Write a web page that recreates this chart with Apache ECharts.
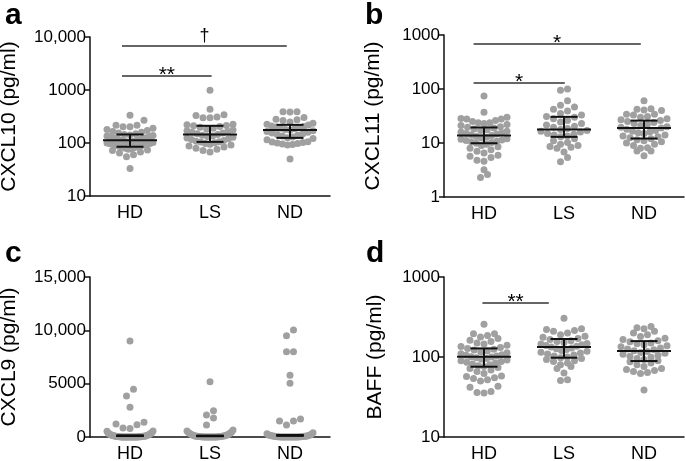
<!DOCTYPE html>
<html><head><meta charset="utf-8">
<script src="https://cdn.jsdelivr.net/npm/echarts@6/dist/echarts.min.js"></script>
<style>html,body{margin:0;padding:0;background:#fff}#c{width:685px;height:461px}</style>
</head><body><div id="c"></div>
<script>
// ---------------- data ----------------
const groups = ['HD', 'LS', 'ND'];

// panel a: CXCL10 (pg/ml)
const aHD = [33, 55, 60, 65, 68, 72, 74, 76, 78, 80, 82, 84, 85, 86, 88, 90, 92, 94, 95, 97, 98, 100, 102, 104, 105, 107, 109, 111, 113, 115, 117, 119, 121, 123, 125, 127, 130, 133, 136, 139, 142, 145, 150, 155, 160, 165, 172, 180, 190, 203, 203, 217, 217, 270, 335];
const aLS = [68, 72, 76, 80, 84, 88, 92, 95, 98, 101, 104, 106, 108, 112, 116, 120, 124, 128, 132, 136, 140, 145, 150, 155, 160, 165, 170, 176, 182, 190, 198, 205, 211, 215, 220, 225, 300, 300, 310, 330, 340, 435, 990];
const aND = [50, 92, 94, 96, 98, 100, 102, 104, 106, 115, 122, 126, 130, 135, 140, 145, 150, 155, 160, 165, 170, 175, 180, 185, 190, 195, 200, 205, 210, 218, 225, 235, 250, 265, 275, 280, 303, 385, 387, 390];
const aMed = [113, 145, 175], aQ1 = [85, 105, 125], aQ3 = [145, 211, 220];
const aTickVals = [10, 100, 1000, 10000], aTickLabels = ['10', '100', '1000', '10,000'];
const aSigFrom = [0.4, 0.4], aSigTo = [1.52, 2.46], aSigY = [1837, 6760], aSigText = ['**', '\u2020'];

// panel b: CXCL11 (pg/ml)
const bHD = [2.3, 2.6, 3.2, 4.6, 4.8, 5.4, 5.7, 5.9, 6.5, 7.0, 7.5, 8.0, 8.5, 9.0, 9.5, 9.9, 10.2, 10.5, 10.8, 11.1, 11.4, 11.7, 12.0, 12.4, 12.8, 13.2, 13.8, 14.2, 14.6, 15.0, 15.5, 16.0, 16.5, 17.0, 17.6, 18.2, 19.0, 19.5, 20.0, 21.0, 22.0, 23.0, 23.6, 23.6, 25.0, 26.0, 27.7, 27.7, 28.5, 30, 37.3, 74];
const bLS = [4.5, 5.4, 6.8, 8.0, 8.3, 8.6, 9.0, 9.5, 10.2, 11.0, 12.0, 13.0, 13.5, 14.0, 14.5, 15.0, 16.0, 16.5, 17.0, 17.8, 18.5, 19.5, 20.5, 21.5, 23.0, 24.5, 26.0, 28.0, 30.0, 31.0, 33.0, 35.0, 39.0, 42.0, 46.6, 50.0, 60.5, 95, 100];
const bND = [5.8, 7.1, 7.1, 8.0, 8.2, 9.0, 9.5, 10.0, 10.5, 11.0, 11.5, 12.0, 12.5, 13.0, 13.5, 14.0, 15.0, 15.5, 16.0, 16.5, 17.0, 18.0, 19.0, 19.5, 20.0, 21.0, 22.0, 23.0, 24.0, 25.0, 26.0, 27.0, 28.0, 30.0, 31.0, 33.0, 34.0, 34.0, 40.0, 41.0, 42.0, 43.0, 60.5];
const bMed = [13.8, 17.8, 19], bQ1 = [9.9, 13, 12.1], bQ3 = [19.4, 30.5, 26];
const bTickVals = [1, 10, 100, 1000], bTickLabels = ['1', '10', '100', '1000'];
const bSigFrom = [0.37, 0.37], bSigTo = [1.51, 2.46], bSigY = [129, 681], bSigText = ['*', '*'];

// panel c: CXCL9 (pg/ml)
const cHD = [9000, 4470, 3840, 2780, 1375, 1220, 1160, 850, 790, 560, 530, 420, 380, 340, 300, 260, 230, 200, 180, 160, 140, 120, 110, 100, 90, 80, 70, 60, 50, 45, 40, 35, 30, 25, 20, 15, 10, 10, 5, 5, 0, 0, 0, 0, 0, 0, 0, 0, 0, 0, 0, 0];
const cLS = [5190, 2470, 2060, 1780, 1125, 650, 560, 480, 420, 380, 330, 290, 250, 220, 190, 160, 140, 120, 100, 90, 80, 70, 60, 50, 40, 30, 25, 20, 15, 10, 5, 0, 0, 0, 0, 0, 0, 0, 0, 0];
const cND = [10030, 9500, 8000, 8000, 5800, 5030, 1690, 1500, 1500, 1125, 400, 300, 260, 220, 180, 150, 130, 110, 100, 90, 80, 70, 60, 50, 40, 30, 25, 20, 15, 10, 5, 0, 0, 0, 0, 0, 0, 0, 0, 0, 0, 0];
const cMed = [120, 100, 150], cQ1 = [90, 70, 110], cQ3 = [150, 130, 190];
const cTickVals = [0, 5000, 10000, 15000], cTickLabels = ['0', '5000', '10,000', '15,000'];
const cSigFrom = [], cSigTo = [], cSigY = [], cSigText = [];

// panel d: BAFF (pg/ml)
const dHD = [35.5, 36, 37, 42, 43, 50, 52, 54, 55, 57, 58, 62, 66, 69, 72, 74, 76, 78, 80, 82, 84, 86, 88, 90, 92, 94, 96, 98, 100, 101, 103, 105, 107, 110, 113, 116, 119, 122, 125, 128, 131, 135, 140, 145, 150, 156, 162, 170, 178, 186, 195, 195, 256];
const dLS = [51, 52, 63, 72, 76, 80, 84, 88, 90, 93, 96, 98, 100, 103, 106, 109, 112, 115, 118, 121, 124, 127, 130, 133, 136, 139, 142, 145, 148, 152, 156, 160, 165, 170, 176, 182, 190, 200, 210, 215, 220, 225, 305];
const dND = [38.7, 62, 64, 66, 68, 70, 72, 76, 80, 84, 87, 90, 93, 96, 99, 102, 105, 108, 111, 114, 117, 120, 123, 126, 130, 134, 138, 142, 146, 150, 155, 160, 166, 172, 180, 190, 200, 210, 225, 232, 240];
const dMed = [101, 133, 119], dQ1 = [75.6, 98, 89], dQ3 = [128, 168, 158];
const dTickVals = [10, 100, 1000], dTickLabels = ['10', '100', '1000'];
const dSigFrom = [0.48], dSigTo = [1.31], dSigY = [473], dSigText = ['**'];

// ---------------- layout / style ----------------
const FONT = '"Liberation Sans", Arial, Helvetica, sans-serif';
const DOT = 7, MAXHALF = 23, DOT_COLOR = '#a0a0a0', INK = '#111';

const panels = [
  { letter: 'a', letterPos: [5, 1], grid: { left: 90, top: 37, width: 240, height: 159 }, log: true,
    title: 'CXCL10 (pg/ml)', nameGap: 70, series: [aHD, aLS, aND], med: aMed, q1: aQ1, q3: aQ3,
    ticks: aTickVals, labels: aTickLabels, sig: [aSigFrom, aSigTo, aSigY, aSigText], medHalf: 27 },
  { letter: 'b', letterPos: [365, 1], grid: { left: 444, top: 35, width: 240, height: 162 }, log: true,
    title: 'CXCL11 (pg/ml)', nameGap: 60, series: [bHD, bLS, bND], med: bMed, q1: bQ1, q3: bQ3,
    ticks: bTickVals, labels: bTickLabels, sig: [bSigFrom, bSigTo, bSigY, bSigText], medHalf: 27 },
  { letter: 'c', letterPos: [5, 239], grid: { left: 90, top: 277, width: 240, height: 160 }, log: false,
    title: 'CXCL9 (pg/ml)', nameGap: 70, series: [cHD, cLS, cND], med: cMed, q1: cQ1, q3: cQ3,
    ticks: cTickVals, labels: cTickLabels, sig: [cSigFrom, cSigTo, cSigY, cSigText], medHalf: 14 },
  { letter: 'd', letterPos: [366, 239], grid: { left: 444, top: 277, width: 240, height: 160 }, log: true,
    title: 'BAFF (pg/ml)', nameGap: 58, series: [dHD, dLS, dND], med: dMed, q1: dQ1, q3: dQ3,
    ticks: dTickVals, labels: dTickLabels, sig: [dSigFrom, dSigTo, dSigY, dSigText], medHalf: 27 }
];

function frac(p, v) {
  const lo = p.ticks[0], hi = p.ticks[p.ticks.length - 1];
  if (p.log) return (Math.log10(v) - Math.log10(lo)) / (Math.log10(hi) - Math.log10(lo));
  return (v - lo) / (hi - lo);
}

// Prism-like row swarm: rows one dot high, larger values pushed outwards
function swarm(p, vals, gi) {
  const H = p.grid.height, pxX = p.grid.width / 3;
  const pts = vals.map(v => ({ v, px: frac(p, v) * H })).sort((a, b) => a.v - b.v);
  const out = [];
  let i = 0;
  while (i < pts.length) {
    const start = pts[i].px, row = [];
    while (i < pts.length && pts[i].px - start < DOT) { row.push(pts[i]); i++; }
    const n = row.length;
    const sp = n > 1 ? Math.min(DOT, 2 * MAXHALF / (n - 1)) : 0;
    const offs = [];
    for (let k = 0; k < n; k++) offs.push((k - (n - 1) / 2) * sp);
    offs.sort((a, b) => Math.abs(a) - Math.abs(b) || a - b);
    row.forEach((pt, k) => out.push([gi + 0.5 + offs[k] / pxX, pt.v]));
  }
  return out;
}

const option = {
  animation: false,
  backgroundColor: '#fff',
  grid: [], xAxis: [], yAxis: [], series: [], graphic: []
};

panels.forEach((p, pi) => {
  option.grid.push(Object.assign({ outerBoundsMode: 'none', containLabel: false }, p.grid));
  option.xAxis.push({
    type: 'category', gridIndex: pi, data: groups, boundaryGap: true,
    axisLine: { onZero: false, lineStyle: { color: INK, width: 1.5 } },
    axisTick: { alignWithLabel: true, length: 4, lineStyle: { color: INK, width: 1.5 } },
    axisLabel: { fontSize: 18, color: '#000', margin: 8, fontFamily: FONT },
    splitLine: { show: false }
  });
  option.xAxis.push({ type: 'value', gridIndex: pi, min: 0, max: 3, show: false });
  const lo = p.ticks[0], hi = p.ticks[p.ticks.length - 1];
  const y = {
    gridIndex: pi, min: lo, max: hi,
    axisLine: { show: true, onZero: false, lineStyle: { color: INK, width: 1.5 } },
    axisTick: { show: true, length: 5, lineStyle: { color: INK, width: 1.5 } },
    axisLabel: {
      fontSize: 17, color: '#000', margin: 4, fontFamily: FONT,
      formatter: v => {
        const k = p.ticks.findIndex(t => Math.abs(t - v) <= 1e-6 * Math.max(1, t));
        return k >= 0 ? p.labels[k] : '';
      }
    },
    splitLine: { show: false }, minorTick: { show: false },
    name: p.title, nameLocation: 'middle', nameRotate: 90, nameGap: p.nameGap,
    nameTextStyle: { fontSize: 21, color: '#000', fontFamily: FONT }
  };
  if (p.log) { y.type = 'log'; y.logBase = 10; }
  else { y.type = 'value'; y.interval = p.ticks[1] - p.ticks[0]; }
  option.yAxis.push(y);

  p.series.forEach((vals, gi) => {
    option.series.push({
      type: 'scatter', xAxisIndex: 2 * pi + 1, yAxisIndex: pi, silent: true, clip: false,
      symbol: 'circle', symbolSize: DOT, itemStyle: { color: DOT_COLOR, opacity: 1 },
      data: swarm(p, vals, gi), z: 2
    });
  });

  // median + IQR
  option.series.push({
    type: 'custom', xAxisIndex: 2 * pi + 1, yAxisIndex: pi, silent: true, z: 5, clip: false,
    encode: { x: 0, y: [1, 2, 3] },
    data: groups.map((g, i) => [i + 0.5, p.med[i], p.q1[i], p.q3[i]]),
    renderItem: (params, api) => {
      const x = api.value(0);
      const pm = api.coord([x, api.value(1)]);
      const p1 = api.coord([x, api.value(2)]);
      const p3 = api.coord([x, api.value(3)]);
      const st = { stroke: INK, lineWidth: 2, fill: null };
      const mh = p.medHalf, ch = 13.5;
      return { type: 'group', children: [
        { type: 'line', shape: { x1: pm[0] - mh, y1: pm[1], x2: pm[0] + mh, y2: pm[1] }, style: st },
        { type: 'line', shape: { x1: p1[0] - ch, y1: p1[1], x2: p1[0] + ch, y2: p1[1] }, style: st },
        { type: 'line', shape: { x1: p3[0] - ch, y1: p3[1], x2: p3[0] + ch, y2: p3[1] }, style: st },
        { type: 'line', shape: { x1: pm[0], y1: p1[1], x2: pm[0], y2: p3[1] }, style: st }
      ] };
    }
  });

  // significance bars
  const [sf, stt, sy, stx] = p.sig;
  if (sf.length) {
    option.series.push({
      type: 'custom', xAxisIndex: 2 * pi + 1, yAxisIndex: pi, silent: true, z: 5, clip: false,
      encode: { x: [0, 1], y: 2 },
      data: sf.map((f, i) => [f, stt[i], sy[i]]),
      renderItem: (params, api) => {
        const a = api.coord([api.value(0), api.value(2)]);
        const b = api.coord([api.value(1), api.value(2)]);
        const txt = stx[params.dataIndex];
        const dagger = txt === '\u2020';
        const dy = dagger ? -10 : -1;
        return { type: 'group', children: [
          { type: 'line', shape: { x1: a[0], y1: a[1], x2: b[0], y2: b[1] }, style: { stroke: '#333', lineWidth: 1.5 } },
          { type: 'text', x: (a[0] + b[0]) / 2, y: a[1] + dy,
            style: { text: txt, fill: '#000', font: (dagger ? '18px ' : '21px ') + FONT, align: 'center', verticalAlign: 'middle' } }
        ] };
      }
    });
  }

  option.graphic.push({
    type: 'text', left: p.letterPos[0], top: p.letterPos[1], silent: true,
    style: { text: p.letter, fill: '#000', font: 'bold 30px ' + FONT }
  });
});

const chart = echarts.init(document.getElementById('c'), null, { renderer: 'canvas' });
chart.setOption(option);
</script>
</body></html>
